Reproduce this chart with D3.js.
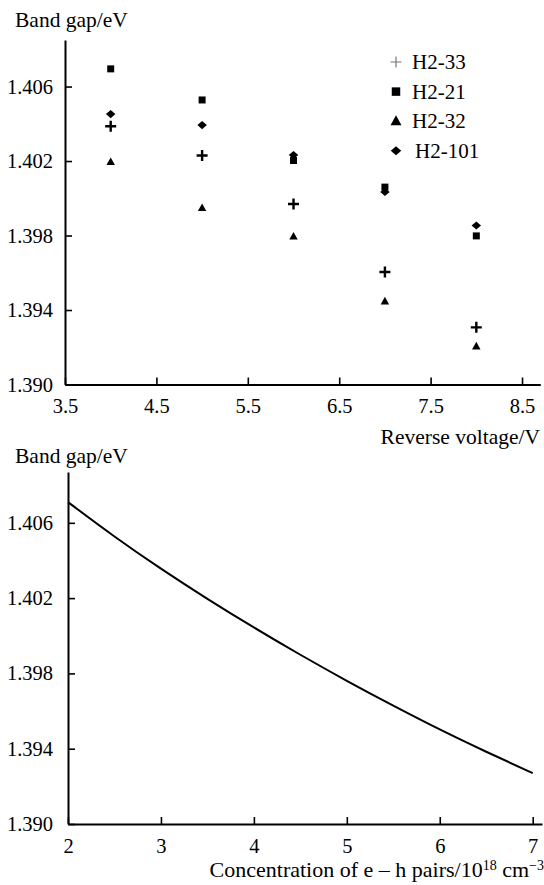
<!DOCTYPE html>
<html>
<head>
<meta charset="utf-8">
<script src="https://cdn.jsdelivr.net/npm/d3@7"></script>
</head>
<body style="margin:0">
<svg id="chart" width="544" height="885" style="display:block;font-family:'Liberation Serif'"></svg>
<script>
// ---------- data: top chart ----------
const voltages = [4, 5, 6, 7, 8];
const seriesNames = ["H2-33", "H2-21", "H2-32", "H2-101"];
const h2_33  = [1.40387, 1.40230, 1.39969, 1.39604, 1.39307];
const h2_21  = [1.40695, 1.40528, 1.40203, 1.40060, 1.39798];
const h2_32  = [1.40195, 1.39948, 1.39795, 1.39446, 1.39205];
const h2_101 = [1.40452, 1.40393, 1.40232, 1.40034, 1.39854];
const topXTicks = [3.5, 4.5, 5.5, 6.5, 7.5, 8.5];
const yTicks = [1.390, 1.394, 1.398, 1.402, 1.406];

// ---------- data: bottom chart ----------
const concentration = [2, 2.5, 3, 3.5, 4, 4.5, 5, 5.5, 6, 6.5, 7];
const bandGapCurve  = [1.4071, 1.40525, 1.40355, 1.40195, 1.40043, 1.39898, 1.3976, 1.39628, 1.39501, 1.39383, 1.3927];
const bottomXTicks = [2, 3, 4, 5, 6, 7];

const svg = d3.select("#chart");
const FONT = "Liberation Serif";
const FS = 20.5;
const TFS = 21.5;

// custom symbols
const plusSym = { draw(ctx, size) { const r = Math.sqrt(size) / 2; ctx.moveTo(-r, 0); ctx.lineTo(r, 0); ctx.moveTo(0, -r); ctx.lineTo(0, r); } };
const squareSym = { draw(ctx, size) { const r = Math.sqrt(size) / 2; ctx.rect(-r, -r, 2 * r, 2 * r); } };
const triSym = { draw(ctx, size) { const w = Math.sqrt(size) / 2, h = w * 0.9; ctx.moveTo(0, -h * 1.2); ctx.lineTo(w, h * 0.8); ctx.lineTo(-w, h * 0.8); ctx.closePath(); } };
const diamSym = { draw(ctx, size) { const w = Math.sqrt(size) / 2, h = w * 0.85; ctx.moveTo(0, -h); ctx.lineTo(w, 0); ctx.lineTo(0, h); ctx.lineTo(-w, 0); ctx.closePath(); } };

const series = [
  { name: seriesNames[0], values: h2_33,  sym: plusSym,   size: 121, filled: false },
  { name: seriesNames[1], values: h2_21,  sym: squareSym, size: 49,  filled: true },
  { name: seriesNames[2], values: h2_32,  sym: triSym,    size: 72,  filled: true },
  { name: seriesNames[3], values: h2_101, sym: diamSym,   size: 90,  filled: true }
];

function styleAxis(g) {
  g.attr("font-family", FONT).attr("font-size", FS);
  g.select(".domain").attr("stroke", "#000").attr("stroke-width", 2);
  g.selectAll(".tick line").attr("stroke", "#000").attr("stroke-width", 1.6);
  g.selectAll(".tick text").style("font-family", FONT).attr("fill", "#000");
}
function label(x, y, txt, anchor, size) {
  return svg.append("text").attr("x", x).attr("y", y).attr("text-anchor", anchor || "start")
    .style("font-family", FONT).attr("font-size", size || TFS).attr("fill", "#000").text(txt);
}

// ================= TOP CHART =================
const xTop = d3.scaleLinear().domain([3.5, 8.7]).range([65, 540.3]);
const yTop = d3.scaleLinear().domain([1.390, 1.4085]).range([384.5, 40]);

svg.append("g").attr("transform", `translate(0,${yTop(1.390)})`)
  .call(d3.axisBottom(xTop).tickValues(topXTicks).tickSize(-7).tickSizeOuter(0).tickPadding(13.5).tickFormat(d3.format(".1f")))
  .call(styleAxis);
svg.append("g").attr("transform", `translate(${xTop(3.5)},0)`)
  .call(d3.axisLeft(yTop).tickValues(yTicks).tickSize(-7).tickSizeOuter(0).tickPadding(12).tickFormat(d3.format(".3f")))
  .call(styleAxis);

label(15, 27, "Band gap/eV");
label(540, 444, "Reverse voltage/V", "end");

const order = [0, 2, 1, 3];
order.forEach(i => {
  const s = series[i];
  svg.append("g").selectAll("path").data(voltages.map((v, j) => [v, s.values[j]])).join("path")
    .attr("transform", d => `translate(${xTop(d[0])},${yTop(d[1])})`)
    .attr("d", d3.symbol().type(s.sym).size(s.size))
    .attr("fill", s.filled ? "#000" : "none")
    .attr("stroke", s.filled ? "none" : "#000")
    .attr("stroke-width", s.filled ? 0 : 2.4);
});

// legend
const legend = svg.append("g");
const legendSizes = [121, 72, 120, 110];
series.forEach((s, i) => {
  const cy = 62 + i * 29.6;
  legend.append("path")
    .attr("transform", `translate(396,${cy})`)
    .attr("d", d3.symbol().type(s.sym).size(legendSizes[i]))
    .attr("fill", s.filled ? "#000" : "none")
    .attr("stroke", s.filled ? "none" : "#777")
    .attr("stroke-width", s.filled ? 0 : 1.2);
  legend.append("text").attr("x", i === 3 ? 415 : 412).attr("y", cy + 7)
    .style("font-family", FONT).attr("font-size", 21).attr("fill", "#000").text(s.name);
});

// ================= BOTTOM CHART =================
const xBot = d3.scaleLinear().domain([2, 7.1]).range([68, 542]);
const yBot = d3.scaleLinear().domain([1.390, 1.4087]).range([824, 472]);

svg.append("g").attr("transform", `translate(0,${yBot(1.390)})`)
  .call(d3.axisBottom(xBot).tickValues(bottomXTicks).tickSize(-7).tickSizeOuter(0).tickPadding(14.5).tickFormat(d3.format("d")))
  .call(styleAxis);
svg.append("g").attr("transform", `translate(${xBot(2)},0)`)
  .call(d3.axisLeft(yBot).tickValues(yTicks).tickSize(-7).tickSizeOuter(0).tickPadding(15).tickFormat(d3.format(".3f")))
  .call(styleAxis);

svg.append("path")
  .datum(concentration.map((c, i) => [c, bandGapCurve[i]]))
  .attr("fill", "none").attr("stroke", "#000").attr("stroke-width", 2)
  .attr("d", d3.line().x(d => xBot(d[0])).y(d => yBot(d[1])).curve(d3.curveBasis));

label(15, 463, "Band gap/eV");

const xt = label(544, 877, "", "end", 22);
xt.append("tspan").text("Concentration of e \u2013 h pairs/10");
xt.append("tspan").attr("font-size", 14).attr("dy", -7).text("18");
xt.append("tspan").attr("dy", 7).text(" cm");
xt.append("tspan").attr("font-size", 14).attr("dy", -7).text("\u22123");
</script>
</body>
</html>
